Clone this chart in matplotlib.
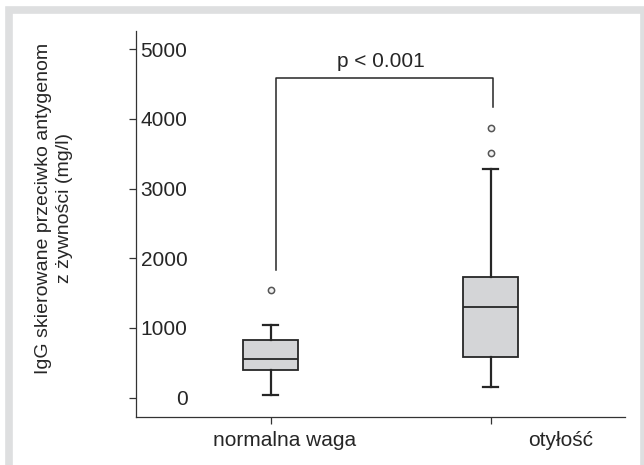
import matplotlib.pyplot as plt
from matplotlib.patches import Rectangle
import matplotlib.transforms as mtransforms

plt.rcParams['font.family'] = ['Liberation Sans', 'DejaVu Sans']

# box statistics per group (mg/l)
groups = ['normalna waga', 'otyłość']
whislo = [39, 149]
q1 = [402, 588]
med = [555, 1306]
q3 = [828, 1736]
whishi = [1043, 3281]
fliers = [[1545], [3506, 3874]]

yticks = [0, 1000, 2000, 3000, 4000, 5000]

# significance bracket: left end, top, right end
bracket_x = [1.023, 2.01]
bracket_y = [1830, 4583, 4175]
p_text = 'p < 0.001'

ink = '#262626'
box_fill = '#d4d5d7'

fig = plt.figure(figsize=(6.44, 4.65), dpi=100)
fig.patches.append(Rectangle((8.9 / 644, -0.1), (643.5 - 8.9) / 644, 1.1 - 9.7 / 465,
                             transform=fig.transFigure, fill=False,
                             edgecolor='#dedfe0', linewidth=5.5, zorder=0))

ax = fig.add_axes([135.7 / 644, 1 - 417 / 465, (625 - 135.7) / 644, (417 - 31) / 465])

stats = []
for i in range(len(groups)):
    stats.append({'whislo': whislo[i], 'q1': q1[i], 'med': med[i], 'q3': q3[i],
                  'whishi': whishi[i], 'fliers': fliers[i], 'label': groups[i]})

ax.bxp(stats, positions=[1, 2], widths=0.251, capwidths=0.066, patch_artist=True,
       manage_ticks=False,
       boxprops=dict(facecolor=box_fill, edgecolor=ink, linewidth=1.3),
       medianprops=dict(color=ink, linewidth=1.3),
       whiskerprops=dict(color=ink, linewidth=1.6),
       capprops=dict(color=ink, linewidth=1.6),
       flierprops=dict(marker='o', markersize=4.5, markerfacecolor='#f2f2f2',
                       markeredgecolor='#555555', markeredgewidth=1.1))

ax.plot([bracket_x[0], bracket_x[0], bracket_x[1], bracket_x[1]],
        [bracket_y[0], bracket_y[1], bracket_y[1], bracket_y[2]],
        color=ink, linewidth=1.1)
ax.text(1.501, 4749, p_text, ha='center', va='baseline', fontsize=15, color=ink)

ax.set_xlim(0.3864, 2.6105)
ax.set_ylim(-277, 5261)

for side in ['top', 'right']:
    ax.spines[side].set_visible(False)
for side in ['left', 'bottom']:
    ax.spines[side].set_linewidth(0.9)
    ax.spines[side].set_color('#333333')

ax.set_yticks(yticks)
ax.set_yticklabels([str(v) for v in yticks])
ax.tick_params(axis='y', direction='out', length=4.7, width=0.9, color='#333333',
               pad=-42, labelsize=15, labelcolor=ink)

ax.set_xticks([1, 2])
ax.set_xticklabels(['', ''])
ax.tick_params(axis='x', direction='out', length=5, width=0.9, color='#333333')

# group names sit a bit to the right of their ticks
trans = mtransforms.blended_transform_factory(ax.transData, ax.transAxes)
ax.text(1.063, -0.06, groups[0], transform=trans, ha='center', va='center',
        fontsize=15, color=ink)
ax.text(2.32, -0.06, groups[1], transform=trans, ha='center', va='center',
        fontsize=15, color=ink)

fig.text(54 / 644, 1 - 208 / 465, 'IgG skierowane przeciwko antygenom\nz żywności (mg/l)',
         rotation=90, ha='center', va='center', multialignment='center',
         linespacing=1.3, fontsize=14, color=ink)

fig.savefig('out.png', dpi=100)
